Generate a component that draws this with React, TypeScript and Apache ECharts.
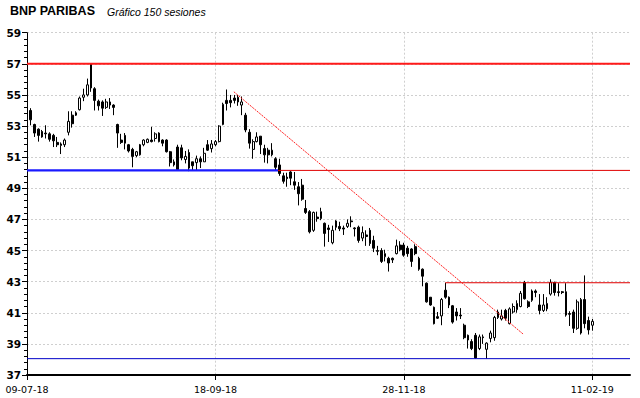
import React, { useEffect, useRef } from 'react';
import * as echarts from 'echarts';

// Session index 1..150 (x axis runs 0..160)
const openP = [
  54.0, 53.1, 52.8, 52.65, 52.55, 52.5, 52.4, 51.95, 51.75, 51.8,
  52.6, 53.7, 53.85, 54.05, 54.85, 55.0, 57.0, 55.4, 54.6, 54.55,
  54.2, 54.55, 54.35, 53.1, 52.1, 52.4, 51.8, 51.5, 51.1, 51.15,
  51.8, 51.95, 52.1, 52.2, 52.55, 52.1, 52.1, 51.35, 50.5, 51.65,
  51.6, 50.85, 51.3, 50.7, 50.65, 50.9, 50.7, 51.8, 51.55, 51.8,
  52.0, 53.1, 54.65, 54.65, 54.8, 54.85, 54.35, 53.7, 52.6, 51.5,
  52.0, 52.35, 51.55, 51.45, 51.15, 50.9, 50.5, 49.8, 49.72, 50.05,
  49.42, 49.1, 49.2, 47.7, 47.5, 46.3, 47.15, 47.05, 46.75, 46.45,
  45.5, 46.9, 46.55, 46.45, 46.55, 46.9, 46.45, 46.5, 45.8, 46.0,
  46.3, 45.65, 45.0, 45.0, 44.6, 44.5, 44.5, 44.8, 45.35, 45.35,
  45.15, 45.1, 45.25, 44.5, 43.8, 42.9, 42.0, 41.35, 40.75, 40.8,
  42.45, 42.0, 41.45, 41.05, 40.85, 40.2, 39.55, 39.15, 39.55, 38.7,
  39.45, 38.65, 39.35, 39.4, 41.05, 40.6, 41.15, 40.3, 41.05, 41.2,
  41.4, 42.95, 41.7, 41.8, 42.4, 41.5, 41.15, 41.25, 42.2, 42.95,
  42.35, 42.35, 42.35, 40.95, 41.05, 40.0, 39.7, 41.85, 40.5, 40.2,
];
const closeP = [
  53.4, 52.55, 52.4, 52.3, 52.5, 52.15, 52.05, 51.8, 51.85, 52.1,
  53.3, 53.15, 53.7, 54.8, 55.0, 55.65, 55.45, 54.65, 54.3, 54.15,
  54.55, 54.35, 54.2, 52.55, 51.95, 51.9, 51.4, 51.05, 51.35, 51.8,
  52.1, 52.15, 52.0, 52.5, 52.0, 51.9, 51.35, 50.65, 50.7, 50.2,
  50.95, 51.05, 50.3, 50.45, 50.9, 50.7, 51.25, 51.45, 51.85, 52.0,
  53.0, 54.4, 54.45, 54.5, 54.65, 54.55, 54.55, 52.75, 51.9, 52.0,
  52.3, 51.8, 51.15, 51.15, 51.45, 50.35, 49.95, 49.45, 49.62, 49.65,
  49.2, 48.65, 48.3, 47.45, 46.2, 47.45, 47.05, 47.5, 46.1, 46.35,
  46.3, 46.5, 46.4, 46.38, 46.75, 46.85, 46.4, 45.65, 46.15, 45.9,
  45.45, 45.15, 44.95, 44.3, 44.8, 44.2, 44.4, 45.3, 45.05, 44.7,
  44.8, 44.3, 44.8, 43.8, 43.35, 41.7, 41.5, 40.3, 40.65, 41.85,
  42.0, 41.5, 40.4, 40.8, 40.8, 39.4, 39.25, 38.7, 38.1, 39.45,
  39.4, 39.05, 39.7, 40.7, 40.7, 40.8, 40.65, 41.25, 41.4, 41.6,
  42.25, 41.9, 41.4, 42.4, 42.3, 41.15, 41.5, 41.6, 42.95, 42.3,
  42.3, 42.3, 40.85, 40.9, 40.0, 41.7, 41.85, 40.3, 39.9, 40.45,
];
const lowP = [
  53.05, 52.3, 52.0, 52.25, 52.2, 52.0, 51.65, 51.65, 51.2, 51.65,
  52.4, 52.9, 53.65, 54.0, 54.6, 54.9, 55.2, 54.0, 54.0, 53.65,
  54.1, 54.1, 53.7, 51.6, 51.85, 51.5, 51.3, 50.35, 51.0, 51.1,
  51.7, 51.9, 51.95, 52.0, 51.95, 51.7, 51.3, 50.4, 50.4, 50.15,
  50.8, 50.6, 50.1, 50.15, 50.15, 50.3, 50.7, 51.4, 51.3, 51.7,
  51.95, 53.05, 54.0, 54.2, 54.45, 54.3, 53.7, 52.6, 51.55, 50.9,
  51.95, 51.2, 50.65, 50.6, 51.05, 50.15, 49.8, 49.3, 49.1, 49.2,
  48.9, 47.9, 48.2, 47.35, 46.1, 46.2, 46.85, 46.95, 45.25, 45.55,
  45.4, 46.3, 46.25, 46.0, 46.45, 46.5, 45.9, 45.5, 45.6, 45.3,
  45.3, 44.9, 44.7, 44.2, 44.3, 43.65, 44.2, 44.75, 44.95, 44.6,
  44.6, 43.95, 44.7, 43.7, 42.7, 41.65, 41.45, 40.25, 40.6, 40.2,
  41.9, 41.3, 40.3, 40.5, 40.6, 39.3, 38.7, 38.6, 38.05, 38.6,
  39.0, 38.05, 39.1, 39.2, 40.6, 40.5, 40.5, 40.25, 40.95, 41.0,
  41.35, 41.85, 41.3, 41.7, 42.0, 40.9, 41.05, 41.1, 42.1, 42.1,
  42.05, 42.2, 40.75, 40.15, 39.7, 39.9, 39.6, 40.0, 39.6, 39.85,
];
const highP = [
  54.15, 53.15, 52.85, 52.75, 53.05, 52.6, 52.5, 52.3, 51.95, 52.2,
  53.95, 53.95, 53.95, 54.9, 55.4, 56.05, 57.05, 55.5, 54.7, 54.65,
  54.75, 54.8, 54.4, 53.15, 52.5, 52.55, 51.85, 51.6, 51.4, 51.85,
  52.15, 52.2, 52.95, 52.6, 52.6, 52.15, 52.15, 51.4, 50.85, 51.8,
  51.8, 51.4, 51.5, 50.7, 51.1, 51.05, 51.6, 52.1, 52.1, 52.1,
  53.05, 54.5, 55.35, 55.0, 55.0, 55.0, 54.9, 53.85, 52.8, 52.15,
  52.6, 52.35, 51.8, 51.6, 51.9, 51.0, 50.9, 50.0, 50.0, 50.1,
  50.05, 49.4, 49.6, 48.25, 47.6, 47.5, 47.5, 47.75, 46.8, 46.65,
  46.6, 46.95, 46.85, 46.6, 47.0, 47.2, 46.5, 46.6, 46.55, 46.3,
  46.45, 45.95, 45.3, 45.15, 45.05, 44.6, 44.55, 45.7, 45.6, 45.5,
  45.3, 45.15, 45.4, 44.6, 43.85, 42.95, 42.0, 41.4, 41.05, 41.95,
  42.93, 42.05, 41.5, 41.3, 41.3, 40.3, 39.6, 39.3, 39.7, 39.6,
  39.6, 39.1, 39.85, 40.8, 41.2, 41.2, 41.25, 41.35, 41.6, 41.8,
  42.4, 43.05, 41.8, 42.5, 42.5, 42.2, 42.2, 42.0, 43.15, 43.0,
  42.9, 42.4, 42.9, 41.1, 41.2, 41.85, 41.95, 43.4, 40.75, 40.6,
];

const xTickPos = [0, 50, 100, 150];
const xTickLabels = ['09-07-18', '18-09-18', '28-11-18', '11-02-19'];

// Horizontal levels and trend line: [sessionIndex, price]
const line57 = [[0, 57], [160, 57]];
const supportBlue = [[0, 50.15], [66.6, 50.15]];
const supportRed = [[66.6, 50.15], [160, 50.15]];
const line43 = [[111, 42.93], [160, 42.93]];
const bottomLine = [[0, 38.05], [160, 38.05]];
const trendLine = [[54.9, 55.2], [131.8, 39.6]];

const gridColor = '#cfcfcf';

function levelSeries(data: number[][], color: string, width: number, type: any = 'solid') {
  return {
    type: 'line',
    data,
    symbol: 'none',
    silent: true,
    z: 5,
    lineStyle: { color, width, type },
  };
}

export default function App() {
  const ref = useRef<HTMLDivElement>(null);
  useEffect(() => {
    if (!ref.current) return;
    const chart = echarts.init(ref.current, undefined, { renderer: 'svg' });
    const candles = openP.map((o, i) => [i + 1, o, closeP[i], lowP[i], highP[i]]);
    chart.setOption({
      animation: false,
      backgroundColor: '#ffffff',
      graphic: [
        {
          type: 'text', x: 10, y: 4,
          style: { text: 'BNP PARIBAS', fill: '#000', fontFamily: '"Liberation Sans", Arial, sans-serif', fontWeight: 'bold', fontSize: 12.5 },
        },
        {
          type: 'text', x: 107, y: 6.5,
          style: { text: 'Gráfico 150 sesiones', fill: '#000', fontFamily: '"Liberation Sans", Arial, sans-serif', fontStyle: 'italic', fontSize: 10.5 },
        },
      ],
      grid: { left: 27, right: 10, top: 32.7, bottom: 23, containLabel: false },
      xAxis: {
        type: 'value',
        min: 0,
        max: 160,
        axisLine: { show: true, lineStyle: { color: '#000', width: 2 } },
        axisTick: { show: true, length: 5, customValues: xTickPos, lineStyle: { color: '#000' } },
        axisLabel: {
          customValues: xTickPos,
          formatter: (v: number) => {
            const k = xTickPos.indexOf(Math.round(v));
            return k >= 0 ? xTickLabels[k] : '';
          },
          color: '#000', fontFamily: '"DejaVu Sans", Verdana, sans-serif', fontSize: 9.5, margin: 9,
        },
        splitLine: { show: true, showMinLine: false, lineStyle: { color: gridColor, type: [2, 2] } },
      },
      yAxis: {
        type: 'value',
        min: 37,
        max: 59,
        interval: 2,
        axisLine: { show: true, lineStyle: { color: '#000', width: 1 } },
        axisTick: { show: true, length: 5, lineStyle: { color: '#000' } },
        minorTick: { show: true, splitNumber: 5, length: 3, lineStyle: { color: '#000' } },
        axisLabel: { color: '#000', fontFamily: '"DejaVu Sans", Verdana, sans-serif', fontWeight: 'bold', fontSize: 10.5, margin: 6 },
        splitLine: { show: true, showMinLine: false, lineStyle: { color: gridColor, type: [2, 2] } },
      },
      series: [
        {
          type: 'candlestick',
          data: candles,
          barWidth: 2.3,
          itemStyle: {
            color: '#ffffff', color0: '#000000',
            borderColor: '#000000', borderColor0: '#000000', borderColorDoji: '#000000',
            borderWidth: 1,
          },
        },
        levelSeries(line57, '#ff1a1a', 2),
        levelSeries(supportBlue, '#1a1aff', 2.2),
        levelSeries(supportRed, '#e00000', 1),
        levelSeries(line43, '#e00000', 1),
        levelSeries(bottomLine, '#0000c8', 1),
        levelSeries(trendLine, '#ff2020', 1, [2, 1]),
      ],
    });
    return () => chart.dispose();
  }, []);
  return <div ref={ref} style={{ position: 'fixed', left: 0, top: 0, width: 640, height: 398 }} />;
}
